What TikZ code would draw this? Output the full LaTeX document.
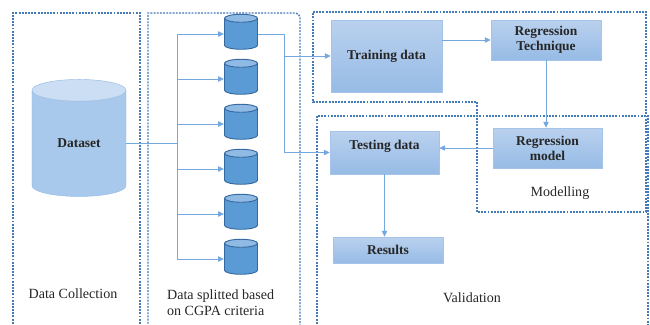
\documentclass[tikz,border=0pt]{standalone}
\usepackage{fontspec}
\setmainfont{Liberation Serif}
\usetikzlibrary{arrows.meta,positioning,shapes.geometric,calc}

\definecolor{boxtop}{RGB}{186,209,238}
\definecolor{boxbot}{RGB}{150,187,230}
\definecolor{boxline}{RGB}{165,196,234}
\definecolor{dbbody}{RGB}{168,201,236}
\definecolor{dbend}{RGB}{203,222,243}
\definecolor{dbline}{RGB}{150,188,230}
\definecolor{partbody}{RGB}{91,155,213}
\definecolor{partend}{RGB}{143,186,228}
\definecolor{partline}{RGB}{55,105,160}
\definecolor{flow}{RGB}{118,168,224}
\definecolor{zone}{RGB}{66,122,186}

\begin{document}
\begin{tikzpicture}[
  x=0.03cm, y=-0.03cm,
  every node/.style={font=\fontsize{11.5}{13}\selectfont\bfseries, text=black!85, align=center},
  stagebox/.style={draw=boxline, top color=boxtop, bottom color=boxbot, inner sep=2pt},
  zonebox/.style={draw=zone, line width=1.2pt, dash pattern=on 1.6pt off 1.1pt},
  zonelabel/.style={font=\fontsize{12}{13.6}\selectfont},
  flowline/.style={draw=flow, line width=0.8pt},
  tip/.style={-{Triangle[length=5pt,width=4.5pt]}},
  part/.style={cylinder, shape border rotate=90, aspect=0.25, draw=partline, line width=0.8pt,
    cylinder uses custom fill, cylinder body fill=partbody, cylinder end fill=partend,
    minimum width=0.99cm, minimum height=1.05cm, inner sep=0pt}
]
\useasboundingbox (0,0) rectangle (650,324);
\clip (0,0) rectangle (650,324);

% Zones
\draw[zonebox] (13,330) rectangle (140,13);
\draw[zonebox] (148,330) -- (148,13) [rounded corners=4pt] -- (300,13) -- (300,330);
\draw[zonebox] (313,12) -- (646,12) -- (646,212) -- (477,212) -- (477,102) -- (313,102) -- cycle;
\draw[zonebox] (317,330) -- (317,116) -- (648,116) -- (648,330);

% Dataset
\node[cylinder, shape border rotate=90, aspect=0.5, draw=dbline, cylinder uses custom fill,
  cylinder body fill=dbbody, cylinder end fill=dbend, minimum width=2.82cm, minimum height=3.51cm,
  inner sep=0pt] (db) at (79,143.5) {Dataset};

% Partitions
\foreach \i in {1,...,6}
  \node[part] (s\i) at (241,{34+45*(\i-1)}) {\hspace*{0.96cm}};

% Stages
\node[stagebox, minimum width=3.33cm, minimum height=2.16cm] (train) at (386.5,56) {Training data};
\node[stagebox, minimum width=3.3cm, minimum height=1.2cm] (tech) at (546,40) {Regression\\Technique};
\node[stagebox, minimum width=3.27cm, minimum height=1.2cm] (rmodel) at (547.5,148) {Regression\\model};
\node[stagebox, minimum width=3.27cm, minimum height=1.29cm] (test) at (384.5,152.5) {Testing data\\\mbox{}};
\node[stagebox, minimum width=3.3cm, minimum height=0.78cm] (res) at (388,250) {Results};

% Zone labels
\node[zonelabel] (lcollect) at (73,294) {Data Collection};
\node[zonelabel, align=left, anchor=west] (lsplit) at (163,303) {Data splitted based\\on CGPA criteria};
\node[zonelabel] (lmodel) at (560,193) {Modelling};
\node[zonelabel] (lvalid) at (472,298) {Validation};

% Connections
\draw[flowline] (db.east) -- ++(51,0) coordinate (fork);
\draw[flowline] (fork |- s1.west) -- (fork |- s6.west);
\foreach \i in {1,...,6}
  \draw[flowline, tip] (fork |- s\i.west) -- (s\i.west);
\draw[flowline, tip] (s1.east) -- ++(26,0) coordinate (branch) |- (test.west);
\draw[flowline, tip] (branch |- train.west) -- (train.west);
\draw[flowline, tip] (train.east |- tech.west) -- (tech.west);
\draw[flowline, tip] (tech.south) -- (rmodel.north -| tech.south);
\draw[flowline, tip] (rmodel.west) -- (test.east |- rmodel.west);
\draw[flowline, tip] (test.south) -- (test.south |- res.north);
\end{tikzpicture}
\end{document}
